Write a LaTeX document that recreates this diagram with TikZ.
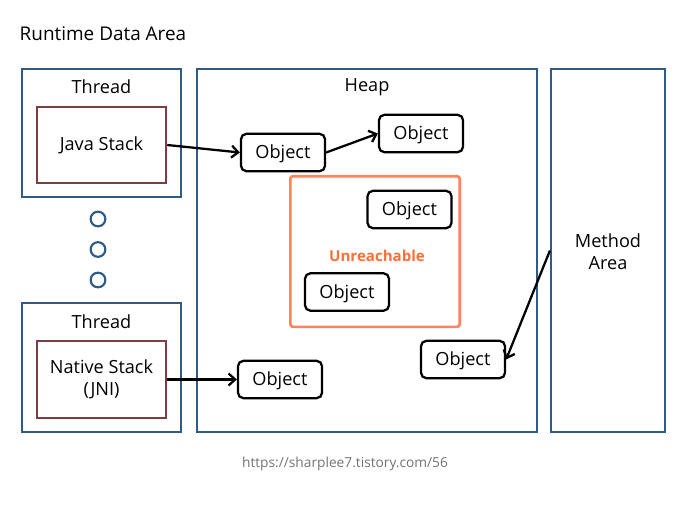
\documentclass[tikz,border=0pt]{standalone}
\usepackage{fontspec}
\setmainfont{Open Sans}
\usetikzlibrary{arrows.meta}
\definecolor{areablue}{RGB}{47,92,134}
\definecolor{stackred}{RGB}{124,62,66}
\definecolor{lostorange}{RGB}{255,110,60}
\begin{document}
\begin{tikzpicture}[x=0.75pt, y=-0.75pt,
    every node/.style={font=\fontsize{13.6}{16.5}\selectfont},
    area/.style={draw=areablue, line width=1.6pt, inner sep=0pt},
    stackbox/.style={draw=stackred, line width=1.6pt, minimum width=97pt, minimum height=57pt, align=center},
    obj/.style={draw, line width=1.7pt, rounded corners=4pt, minimum width=63pt, minimum height=28pt, inner sep=0pt, text depth=1pt},
    link/.style={line width=1.7pt, -{Straight Barb[length=5pt,width=9pt]}}]
        \useasboundingbox (0,0) rectangle (692,517);
        \node [anchor=west, font=\fontsize{14.2}{17}\selectfont] (title) at (15,34) {Runtime Data Area};
        % threads
        \node [area, minimum width=119pt, minimum height=96pt] (thread1) at (101.5,133) {};
        \node [area, minimum width=119pt, minimum height=97pt] (thread2) at (101.5,367.5) {};
        \node (thread1label) at (101.5,87) {Thread};
        \node (thread2label) at (101.5,322) {Thread};
        \node [stackbox] (jstack) at (101.5,145) {Java Stack};
        \node [stackbox, minimum height=58pt] (nstack) at (101.5,379.5) {Native Stack\\(JNI)};
        \node [draw=areablue, line width=1.6pt, circle, minimum size=11pt, inner sep=0pt] (dot1) at (98,219) {};
        \node [draw=areablue, line width=1.6pt, circle, minimum size=11pt, inner sep=0pt] (dot2) at (98,249.5) {};
        \node [draw=areablue, line width=1.6pt, circle, minimum size=11pt, inner sep=0pt] (dot3) at (98,280) {};
        % heap and method area
        \node [area, minimum width=255pt, minimum height=272pt] (heap) at (367,250.5) {};
        \node (heaplabel) at (367,87) {Heap};
        \node [area, minimum width=85.5pt, minimum height=272pt] (method) at (608,250.5) {};
        \node [align=center] (methodlabel) at (608,252) {Method\\Area};
        % unreachable
        \node [draw=lostorange!85, line width=2pt, rounded corners=2pt, minimum width=127pt, minimum height=113pt, inner sep=0pt] (lost) at (375,251.5) {};
        \node [text=lostorange, font=\fontsize{11.3}{13}\selectfont\bfseries] (lostlabel) at (377,256) {Unreachable};
        % objects
        \node [obj] (obj1) at (283,152.5) {Object};
        \node [obj] (obj2) at (421,133.5) {Object};
        \node [obj] (obj3) at (409.5,209.5) {Object};
        \node [obj] (obj4) at (347,292) {Object};
        \node [obj] (obj5) at (463,359.5) {Object};
        \node [obj] (obj6) at (280,379.5) {Object};
        \draw [link] (jstack.east) -- (obj1.west);
        \draw [link] (obj1.east) -- (obj2.west);
        \draw [link] (method.west) -- (obj5.east);
        \draw [link] (nstack.east) -- (obj6.west);
        \node [text=black!55, font=\fontsize{10.3}{12}\selectfont] (source) at (345,464) {https://sharplee7.tistory.com/56};
      \end{tikzpicture}
\end{document}
